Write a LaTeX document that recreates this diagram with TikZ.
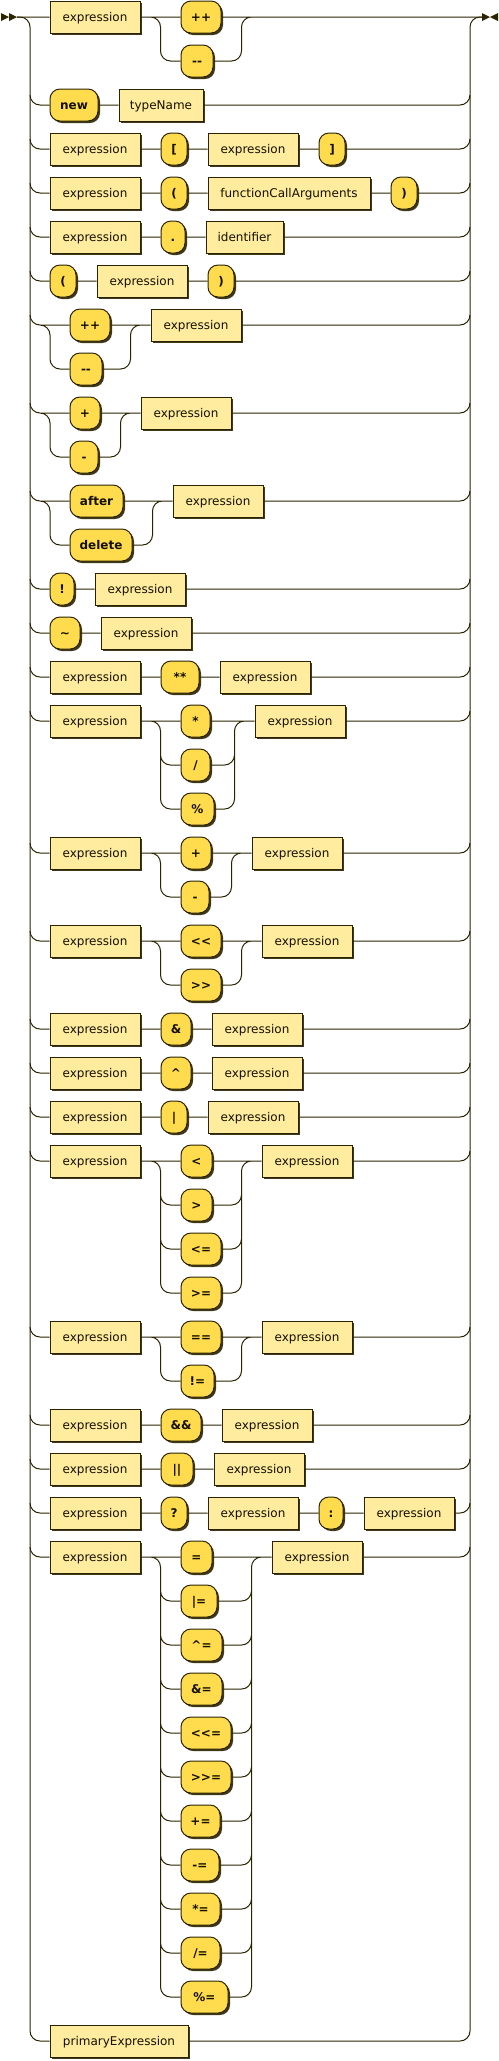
\documentclass[tikz,border=0pt]{standalone}
\usepackage{fontspec}
\setmainfont{DejaVu Sans}[Ligatures=TeXOff]
\usetikzlibrary{positioning,calc,shadows}

\definecolor{rrline}{HTML}{2B2300}
\definecolor{rrtext}{HTML}{141000}
\definecolor{ntfill}{HTML}{FFEC9E}
\definecolor{tmfill}{HTML}{FFDB4D}

\tikzset{
  rail/.style={draw=rrline, line width=0.75pt, rounded corners=7.5pt},
  rrbox/.style={draw=rrline, line width=0.75pt, anchor=west, inner sep=0pt,
    minimum height=24pt, text height=7.5pt, text depth=1.5pt, text=rrtext,
    font=\fontsize{9}{10}\selectfont,
    drop shadow={shadow xshift=1.5pt, shadow yshift=-1.5pt, fill=rrline, opacity=0.9}},
  nt/.style={rrbox, fill=ntfill, minimum width=#1*0.75pt},
  tm/.style={rrbox, fill=tmfill, rounded corners=7.5pt, minimum width=#1*0.75pt,
    font=\fontsize{9}{10}\selectfont\bfseries},
}

\begin{document}
\begin{tikzpicture}[x=0.75pt, y=-0.75pt, node distance=15pt,
    split/.style={to path={-- ++(#1,0) |- (\tikztotarget)}},
    split/.default=20,
    merge/.style={to path={-| ($(\tikztotarget)+(-20,0)$) -- (\tikztotarget)}},
    enter/.style={to path={($(lrail |- \tikztotarget)+(0,-10)$) -- (lrail |- \tikztotarget) -- (\tikztotarget)}},
    leave/.style={to path={-- (rrail |- \tikztostart) -- ($(rrail |- \tikztostart)+(0,-10)$)}}]
  \useasboundingbox (0,0) rectangle (499,2061);
  \coordinate (entry) at (17,17);
  \coordinate (lrail) at (30,17);
  \coordinate (rrail) at (470,17);
  \coordinate (exit) at (482,17);
  \fill[rrline] (1,13) -- (9,17) -- (1,21) -- cycle (9,13) -- (17,17) -- (9,21) -- cycle;
  \fill[rrline] (482,13) -- (490,17) -- (482,21) -- cycle (498,13) -- (490,17) -- (498,21) -- cycle;

  % postfix
  \node[nt=90] (postE) at (49.5,17) {expression};
  \node[tm=40, right=30pt of postE] (postInc) {++};
  \node[tm=32, below=33pt of postInc.west, anchor=west] (postDec) {-{}-};
  \coordinate (postJ) at ($(postInc.east)+(40,0)$);
  \draw[rail]
    (entry) -- (postE)
    (postE) -- (postInc) -- (exit)
    (postE.east) to[split] (postDec.west)
    (postDec.east) to[merge] (postJ)
    ; %end path

  \node[tm=48] (newKw) at (49.5,105) {new};
  \node[nt=84, right=of newKw] (newType) {typeName};
  \draw[rail]
    (entry) to[enter] (newKw.west)
    (newKw) -- (newType)
    (newType.east) to[leave] (exit)
    ; %end path

  \node[nt=90] (idxE) at (49.5,149) {expression};
  \node[tm=26, right=of idxE] (idxOpen) {[};
  \node[nt=90, right=of idxOpen] (idxArg) {expression};
  \node[tm=26, right=of idxArg] (idxClose) {]};
  \draw[rail]
    (entry) to[enter] (idxE.west)
    (idxE) -- (idxOpen) -- (idxArg) -- (idxClose)
    (idxClose.east) to[leave] (exit)
    ; %end path

  \node[nt=90] (callE) at (49.5,193) {expression};
  \node[tm=26, right=of callE] (callOpen) {(};
  \node[nt=162, right=of callOpen] (callArgs) {functionCallArguments};
  \node[tm=26, right=of callArgs] (callClose) {)};
  \draw[rail]
    (entry) to[enter] (callE.west)
    (callE) -- (callOpen) -- (callArgs) -- (callClose)
    (callClose.east) to[leave] (exit)
    ; %end path

  \node[nt=90] (memE) at (49.5,237) {expression};
  \node[tm=24, right=of memE] (memDot) {.};
  \node[nt=77, right=of memDot] (memId) {identifier};
  \draw[rail]
    (entry) to[enter] (memE.west)
    (memE) -- (memDot) -- (memId)
    (memId.east) to[leave] (exit)
    ; %end path

  \node[tm=26] (parOpen) at (49.5,281) {(};
  \node[nt=90, right=of parOpen] (parE) {expression};
  \node[tm=26, right=of parE] (parClose) {)};
  \draw[rail]
    (entry) to[enter] (parOpen.west)
    (parOpen) -- (parE) -- (parClose)
    (parClose.east) to[leave] (exit)
    ; %end path

  % prefix
  \node[tm=40] (preInc) at (69.5,325) {++};
  \node[tm=32, below=33pt of preInc.west, anchor=west] (preDec) {-{}-};
  \node[nt=90] (preE) at ($(preInc.east)+(40,0)$) {expression};
  \draw[rail]
    (entry) to[enter] (preInc.west)
    ($(lrail |- preInc)+(10,0)$) to[split=10] (preDec.west)
    (preInc) -- (preE)
    (preDec.east) to[merge] (preE.west)
    (preE.east) to[leave] (exit)
    ; %end path

  \node[tm=30] (uPlus) at (69.5,413) {+};
  \node[tm=28, below=33pt of uPlus.west, anchor=west] (uMinus) {-};
  \node[nt=90] (uE) at ($(uPlus.east)+(40,0)$) {expression};
  \draw[rail]
    (entry) to[enter] (uPlus.west)
    ($(lrail |- uPlus)+(10,0)$) to[split=10] (uMinus.west)
    (uPlus) -- (uE)
    (uMinus.east) to[merge] (uE.west)
    (uE.east) to[leave] (exit)
    ; %end path

  \node[tm=53] (afterKw) at (69.5,501) {after};
  \node[tm=62, below=33pt of afterKw.west, anchor=west] (delKw) {delete};
  \node[nt=90] (delE) at ($(delKw.east |- afterKw)+(40,0)$) {expression};
  \draw[rail]
    (entry) to[enter] (afterKw.west)
    ($(lrail |- afterKw)+(10,0)$) to[split=10] (delKw.west)
    (afterKw) -- (delE)
    (delKw.east) to[merge] (delE.west)
    (delE.east) to[leave] (exit)
    ; %end path

  \node[tm=24] (notKw) at (49.5,589) {!};
  \node[nt=90, right=of notKw] (notE) {expression};
  \draw[rail]
    (entry) to[enter] (notKw.west)
    (notKw) -- (notE)
    (notE.east) to[leave] (exit)
    ; %end path

  \node[tm=30] (tilde) at (49.5,633) {\textasciitilde};
  \node[nt=90, right=of tilde] (tildeE) {expression};
  \draw[rail]
    (entry) to[enter] (tilde.west)
    (tilde) -- (tildeE)
    (tildeE.east) to[leave] (exit)
    ; %end path

  % binary operators
  \node[nt=90] (powL) at (49.5,677) {expression};
  \node[tm=38, right=of powL] (pow) {**};
  \node[nt=90, right=of pow] (powR) {expression};
  \draw[rail]
    (entry) to[enter] (powL.west)
    (powL) -- (pow) -- (powR)
    (powR.east) to[leave] (exit)
    ; %end path

  \node[nt=90] (mulL) at (49.5,721) {expression};
  \node[tm=29, right=30pt of mulL] (mul) {*};
  \node[tm=29, below=33pt of mul.west, anchor=west] (div) {/};
  \node[tm=33, below=33pt of div.west, anchor=west] (mod) {\%};
  \node[nt=90] (mulR) at ($(mod.east |- mul)+(40,0)$) {expression};
  \draw[rail]
    (entry) to[enter] (mulL.west)
    (mulL) -- (mul) -- (mulR)
    (mulL.east) to[split] (div.west)
    (mulL.east) to[split] (mod.west)
    (div.east) to[merge] (mulR.west)
    (mod.east) to[merge] (mulR.west)
    (mulR.east) to[leave] (exit)
    ; %end path

  \node[nt=90] (addL) at (49.5,853) {expression};
  \node[tm=30, right=30pt of addL] (add) {+};
  \node[tm=28, below=33pt of add.west, anchor=west] (sub) {-};
  \node[nt=90] (addR) at ($(add.east)+(40,0)$) {expression};
  \draw[rail]
    (entry) to[enter] (addL.west)
    (addL) -- (add) -- (addR)
    (addL.east) to[split] (sub.west)
    (sub.east) to[merge] (addR.west)
    (addR.east) to[leave] (exit)
    ; %end path

  \node[nt=90] (shL) at (49.5,941) {expression};
  \node[tm=40, right=30pt of shL] (shl) {<<};
  \node[tm=40, below=33pt of shl.west, anchor=west] (shr) {>>};
  \node[nt=90] (shR) at ($(shl.east)+(40,0)$) {expression};
  \draw[rail]
    (entry) to[enter] (shL.west)
    (shL) -- (shl) -- (shR)
    (shL.east) to[split] (shr.west)
    (shr.east) to[merge] (shR.west)
    (shR.east) to[leave] (exit)
    ; %end path

  \node[nt=90] (andL) at (49.5,1029) {expression};
  \node[tm=30, right=of andL] (band) {\&};
  \node[nt=90, right=of band] (andR) {expression};
  \draw[rail]
    (entry) to[enter] (andL.west)
    (andL) -- (band) -- (andR)
    (andR.east) to[leave] (exit)
    ; %end path

  \node[nt=90] (xorL) at (49.5,1073) {expression};
  \node[tm=30, right=of xorL] (bxor) {\textasciicircum};
  \node[nt=90, right=of bxor] (xorR) {expression};
  \draw[rail]
    (entry) to[enter] (xorL.west)
    (xorL) -- (bxor) -- (xorR)
    (xorR.east) to[leave] (exit)
    ; %end path

  \node[nt=90] (orL) at (49.5,1117) {expression};
  \node[tm=26, right=of orL] (bor) {|};
  \node[nt=90, right=of bor] (orR) {expression};
  \draw[rail]
    (entry) to[enter] (orL.west)
    (orL) -- (bor) -- (orR)
    (orR.east) to[leave] (exit)
    ; %end path

  \node[nt=90] (relL) at (49.5,1161) {expression};
  \node[tm=31, right=30pt of relL] (lt) {<};
  \node[tm=31, below=33pt of lt.west, anchor=west] (gt) {>};
  \node[tm=40, below=33pt of gt.west, anchor=west] (le) {<=};
  \node[tm=40, below=33pt of le.west, anchor=west] (ge) {>=};
  \node[nt=90] (relR) at ($(le.east |- lt)+(40,0)$) {expression};
  \draw[rail]
    (entry) to[enter] (relL.west)
    (relL) -- (lt) -- (relR)
    (relL.east) to[split] (gt.west)
    (relL.east) to[split] (le.west)
    (relL.east) to[split] (ge.west)
    (gt.east) to[merge] (relR.west)
    (le.east) to[merge] (relR.west)
    (ge.east) to[merge] (relR.west)
    (relR.east) to[leave] (exit)
    ; %end path

  \node[nt=90] (eqL) at (49.5,1337) {expression};
  \node[tm=40, right=30pt of eqL] (eq) {==};
  \node[tm=33, below=33pt of eq.west, anchor=west] (ne) {!=};
  \node[nt=90] (eqR) at ($(eq.east)+(40,0)$) {expression};
  \draw[rail]
    (entry) to[enter] (eqL.west)
    (eqL) -- (eq) -- (eqR)
    (eqL.east) to[split] (ne.west)
    (ne.east) to[merge] (eqR.west)
    (eqR.east) to[leave] (exit)
    ; %end path

  \node[nt=90] (landL) at (49.5,1425) {expression};
  \node[tm=40, right=of landL] (land) {\&\&};
  \node[nt=90, right=of land] (landR) {expression};
  \draw[rail]
    (entry) to[enter] (landL.west)
    (landL) -- (land) -- (landR)
    (landR.east) to[leave] (exit)
    ; %end path

  \node[nt=90] (lorL) at (49.5,1469) {expression};
  \node[tm=32, right=of lorL] (lor) {||};
  \node[nt=90, right=of lor] (lorR) {expression};
  \draw[rail]
    (entry) to[enter] (lorL.west)
    (lorL) -- (lor) -- (lorR)
    (lorR.east) to[leave] (exit)
    ; %end path

  % conditional
  \node[nt=90] (condL) at (49.5,1513) {expression};
  \node[tm=26, right=of condL] (quest) {?};
  \node[nt=90, right=of quest] (condM) {expression};
  \node[tm=24, right=of condM] (colon) {:};
  \node[nt=90, right=of colon] (condR) {expression};
  \draw[rail]
    (entry) to[enter] (condL.west)
    (condL) -- (quest) -- (condM) -- (colon) -- (condR)
    (condR.east) to[leave] (exit)
    ; %end path

  % assignment
  \node[nt=90] (asgL) at (49.5,1557) {expression};
  \node[tm=31, right=30pt of asgL] (asSet) {=};
  \node[tm=36, below=33pt of asSet.west, anchor=west] (asOr) {|=};
  \node[tm=41, below=33pt of asOr.west, anchor=west] (asXor) {\textasciicircum=};
  \node[tm=41, below=33pt of asXor.west, anchor=west] (asAnd) {\&=};
  \node[tm=50, below=33pt of asAnd.west, anchor=west] (asShl) {<<=};
  \node[tm=50, below=33pt of asShl.west, anchor=west] (asShr) {>>=};
  \node[tm=39, below=33pt of asShr.west, anchor=west] (asAdd) {+=};
  \node[tm=38, below=33pt of asAdd.west, anchor=west] (asSub) {-=};
  \node[tm=39, below=33pt of asSub.west, anchor=west] (asMul) {*=};
  \node[tm=39, below=33pt of asMul.west, anchor=west] (asDiv) {/=};
  \node[tm=47, below=33pt of asDiv.west, anchor=west] (asMod) {\%=};
  \node[nt=90] (asgR) at ($(asShl.east |- asSet)+(40,0)$) {expression};
  \draw[rail]
    (entry) to[enter] (asgL.west)
    (asgL) -- (asSet) -- (asgR)
    (asgL.east) to[split] (asOr.west)
    (asgL.east) to[split] (asXor.west)
    (asgL.east) to[split] (asAnd.west)
    (asgL.east) to[split] (asShl.west)
    (asgL.east) to[split] (asShr.west)
    (asgL.east) to[split] (asAdd.west)
    (asgL.east) to[split] (asSub.west)
    (asgL.east) to[split] (asMul.west)
    (asgL.east) to[split] (asDiv.west)
    (asgL.east) to[split] (asMod.west)
    (asOr.east) to[merge] (asgR.west)
    (asXor.east) to[merge] (asgR.west)
    (asAnd.east) to[merge] (asgR.west)
    (asShl.east) to[merge] (asgR.west)
    (asShr.east) to[merge] (asgR.west)
    (asAdd.east) to[merge] (asgR.west)
    (asSub.east) to[merge] (asgR.west)
    (asMul.east) to[merge] (asgR.west)
    (asDiv.east) to[merge] (asgR.west)
    (asMod.east) to[merge] (asgR.west)
    (asgR.east) to[leave] (exit)
    ; %end path

  % last alternative and the two long rails
  \node[nt=138] (prim) at (49.5,2041) {primaryExpression};
  \draw[rail]
    (entry) -- (lrail) |- (prim.west)
    (prim.east) -| (rrail) -- (exit)
    ; %end path
\end{tikzpicture}
\end{document}
